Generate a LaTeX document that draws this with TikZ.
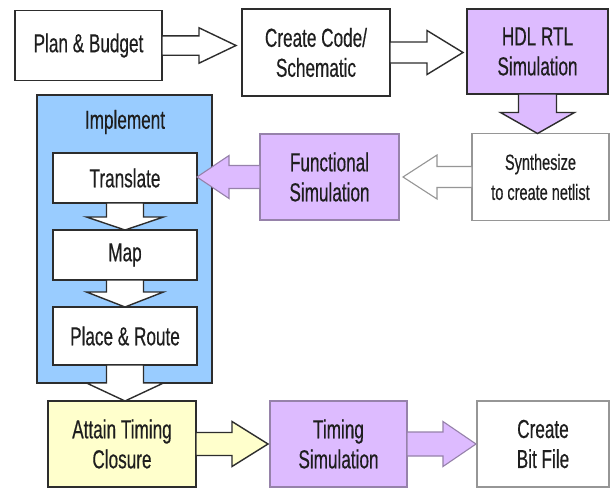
\documentclass[tikz,border=0pt]{standalone}
\usepackage{fontspec}
\setmainfont{Liberation Sans}[FakeStretch=0.66,FakeBold=0.4]
\usetikzlibrary{calc}
\definecolor{lav}{RGB}{221,187,255}
\definecolor{skyb}{RGB}{153,204,255}
\definecolor{paley}{RGB}{255,255,204}
\definecolor{darkln}{RGB}{45,45,45}
\definecolor{greyln}{RGB}{150,150,150}
\definecolor{lavln}{RGB}{150,130,170}
\definecolor{txt}{RGB}{30,30,30}
% #1 style, #2 start, #3 tip, #4 half shaft, #5 half head, #6 head length
\newcommand\blockarrow[6]{%
  \path ($(#3)!#6!(#2)$) coordinate (hb);
  \draw[#1] ($(#2)!#4!90:(#3)$) -- ($(hb)!#4!90:(#3)$) -- ($(hb)!#5!90:(#3)$)
    -- (#3) -- ($(hb)!#5!-90:(#3)$) -- ($(hb)!#4!-90:(#3)$)
    -- ($(#2)!#4!-90:(#3)$) -- cycle;}
\begin{document}
\begin{tikzpicture}[x=1pt,y=-1pt,
  box/.style={draw=darkln, line width=1.4pt, fill=white, inner sep=0pt, outer sep=0pt,
    align=center, text=txt, font=\fontsize{26}{30}\selectfont},
  lbox/.style={box, draw=greyln, line width=1.1pt},
  pbox/.style={box, fill=lav},
  plbox/.style={box, fill=lav, draw=lavln, line width=1.1pt},
  warr/.style={draw=darkln, line width=1.4pt, fill=white, line join=miter},
  wlarr/.style={draw=greyln, line width=1.1pt, fill=white, line join=miter},
  parr/.style={draw=darkln, line width=1.4pt, fill=lav, line join=miter},
  plarr/.style={draw=lavln, line width=1.1pt, fill=lav, line join=miter},
  yarr/.style={draw=darkln, line width=1.4pt, fill=paley, line join=miter}]
\useasboundingbox (0,0) rectangle (611,488);
\fill[white] (0,0) rectangle (611,488);

% Implement group
\node[box, fill=skyb, minimum width=175pt, minimum height=288pt] (impl) at (124.5,239) {};
\node[text=txt, font=\fontsize{26}{30}\selectfont, inner sep=0pt] (impltxt) at (125,122) {Implement};

\node[box, minimum width=144pt, minimum height=50pt] (translate) at (125,178) {Translate};
\node[box, minimum width=144pt, minimum height=50pt] (map) at (125,255) {Map};
\node[box, minimum width=144pt, minimum height=58pt] (place) at (125,336) {Place \& Route};

% Top row
\node[box, minimum width=147pt, minimum height=70pt] (plan) at (88.5,45.5) {Plan \& Budget};
\node[box, minimum width=148pt, minimum height=87pt] (create) at (316,52.5) {Create Code/\\Schematic};
\node[pbox, minimum width=141pt, minimum height=85pt] (hdl) at (537.5,51.5) {HDL RTL\\Simulation};

% Middle row
\node[lbox, minimum width=137pt, minimum height=87pt, font=\fontsize{22}{30}\selectfont] (synth) at (540.5,177) {Synthesize\\to create netlist};
\node[plbox, minimum width=139pt, minimum height=86pt] (func) at (329.5,177) {Functional\\Simulation};

% Bottom row
\node[box, fill=paley, minimum width=148pt, minimum height=86pt] (attain) at (122,444) {Attain Timing\\Closure};
\node[plbox, minimum width=137pt, minimum height=86pt] (timing) at (338.5,444) {Timing\\Simulation};
\node[lbox, minimum width=132pt, minimum height=86pt] (bit) at (543,444) {Create\\Bit File};

% Connectors
\coordinate (a1s) at (plan.east);
\coordinate (a1t) at ($(create.west|-plan.east)+(-6,0)$);
\blockarrow{warr}{a1s}{a1t}{9.7pt}{17.7pt}{37pt}

\coordinate (a2s) at (create.east);
\coordinate (a2t) at ($(hdl.west|-create.east)+(-4,0)$);
\blockarrow{warr}{a2s}{a2t}{10.5pt}{22pt}{36pt}

\coordinate (a3s) at (hdl.south);
\coordinate (a3t) at (hdl.south|-synth.north);
\blockarrow{parr}{a3s}{a3t}{19pt}{37pt}{21pt}

\coordinate (a4s) at (synth.west);
\coordinate (a4t) at ($(func.east|-synth.west)+(4,0)$);
\blockarrow{wlarr}{a4s}{a4t}{10.5pt}{22pt}{34pt}

\coordinate (a5s) at (func.west);
\coordinate (a5t) at (translate.east|-func.west);
\blockarrow{plarr}{a5s}{a5t}{11.5pt}{21.5pt}{32pt}

\coordinate (a6s) at (translate.south);
\coordinate (a6t) at (map.north);
\blockarrow{warr}{a6s}{a6t}{18.5pt}{38.5pt}{13pt}

\coordinate (a7s) at (map.south);
\coordinate (a7t) at (place.north);
\blockarrow{warr}{a7s}{a7t}{18.5pt}{38.5pt}{15pt}

\coordinate (a8s) at (place.south);
\coordinate (a8t) at (place.south|-attain.north);
\blockarrow{warr}{a8s}{a8t}{18.5pt}{38.5pt}{18pt}

\coordinate (a9s) at (attain.east);
\coordinate (a9t) at ($(timing.west|-attain.east)+(-2,0)$);
\blockarrow{yarr}{a9s}{a9t}{11.5pt}{22.5pt}{36pt}

\coordinate (a10s) at (timing.east);
\coordinate (a10t) at ($(bit.west|-timing.east)+(-1,0)$);
\blockarrow{plarr}{a10s}{a10t}{12pt}{22.5pt}{33pt}
\end{tikzpicture}
\end{document}
